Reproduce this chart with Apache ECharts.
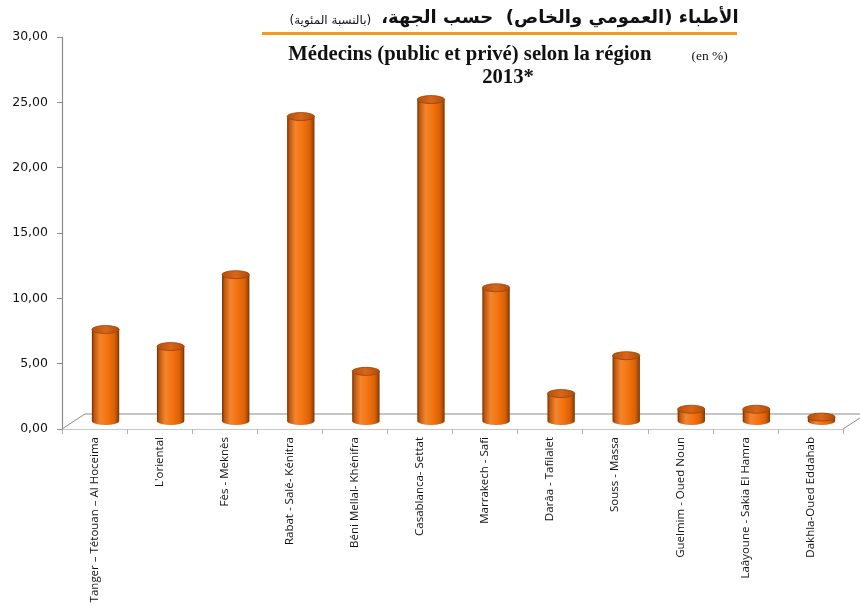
<!DOCTYPE html>
<html>
<head>
<meta charset="utf-8">
<script src="https://cdn.jsdelivr.net/npm/echarts@6/dist/echarts.min.js"></script>
<style>
html,body{margin:0;padding:0;background:#fff;}
#chart{width:860px;height:608px;}
</style>
</head>
<body>
<div id="chart"></div>
<script>
const categories = [
  'Tanger – Tétouan – Al Hoceima',
  "L'oriental",
  'Fès - Meknès',
  'Rabat - Salé- Kénitra',
  'Béni Mellal- Khénifra',
  'Casablanca- Settat',
  'Marrakech - Safi',
  'Darâa - Tafilalet',
  'Souss - Massa',
  'Guelmim - Oued Noun',
  'Laâyoune - Sakia El Hamra',
  'Dakhla-Oued Eddahab'
];
const values = [7.0, 5.7, 11.2, 23.3, 3.8, 24.6, 10.2, 2.1, 5.0, 0.9, 0.9, 0.3];
const yTicks = [0, 5, 10, 15, 20, 25, 30];

const chart = echarts.init(document.getElementById('chart'), null, {renderer: 'canvas'});

const DEPTH_X = 11, DEPTH_Y = 8, FLOOR_X = 23, FLOOR_Y = 15;
const RLM = '\u200F';

function ellipsePath(cx, cy, rx, ry) {
  return 'M' + (cx - rx) + ' ' + cy +
    ' A' + rx + ' ' + ry + ' 0 1 0 ' + (cx + rx) + ' ' + cy +
    ' A' + rx + ' ' + ry + ' 0 1 0 ' + (cx - rx) + ' ' + cy + ' Z';
}

function renderBar(params, api) {
  const idx = api.value(0);
  const val = api.value(1);
  const top = api.coord([idx, val]);
  const base = api.coord([idx, 0]);
  const band = api.size([1, 0])[0];
  const w = band * 0.42;
  const rx = w / 2, ry = 4;
  const cx = top[0] + DEPTH_X;
  const yTop = top[1] - DEPTH_Y;
  const yBase = base[1] - DEPTH_Y;
  const xl = cx - rx, xr = cx + rx;
  const bodyPath = 'M' + xl + ' ' + yTop + ' L' + xl + ' ' + yBase +
    ' A' + rx + ' ' + ry + ' 0 0 0 ' + xr + ' ' + yBase +
    ' L' + xr + ' ' + yTop + ' Z';
  return {
    type: 'group',
    children: [
      {
        type: 'path',
        shape: {pathData: bodyPath},
        style: {
          fill: new echarts.graphic.LinearGradient(0, 0, 1, 0, [
            {offset: 0, color: '#6e2e00'},
            {offset: 0.08, color: '#bd560c'},
            {offset: 0.3, color: '#f2852f'},
            {offset: 0.55, color: '#f47410'},
            {offset: 0.82, color: '#dc6207'},
            {offset: 0.94, color: '#a44a06'},
            {offset: 1, color: '#6e2e00'}
          ])
        }
      },
      {
        type: 'path',
        shape: {pathData: ellipsePath(cx, yTop, rx, ry)},
        style: {
          fill: new echarts.graphic.LinearGradient(0, 0, 1, 0, [
            {offset: 0, color: '#b4500c'},
            {offset: 0.5, color: '#d8661a'},
            {offset: 1, color: '#b04c08'}
          ]),
          stroke: '#9a4206',
          lineWidth: 0.8
        }
      }
    ]
  };
}

function renderFloor(params, api) {
  const cs = params.coordSys;
  const x0 = cs.x, x1 = cs.x + cs.width, yb = cs.y + cs.height;
  return {
    type: 'group',
    children: [
      {type: 'line', shape: {x1: x0, y1: yb, x2: x0 + FLOOR_X, y2: yb - FLOOR_Y}, style: {stroke: '#8c8c8c', lineWidth: 1}},
      {type: 'line', shape: {x1: x0 + FLOOR_X, y1: yb - FLOOR_Y, x2: x1 + FLOOR_X, y2: yb - FLOOR_Y}, style: {stroke: '#8c8c8c', lineWidth: 1.2}},
      {type: 'line', shape: {x1: x1, y1: yb, x2: x1 + FLOOR_X, y2: yb - FLOOR_Y}, style: {stroke: '#8c8c8c', lineWidth: 1}}
    ]
  };
}

const option = {
  backgroundColor: '#ffffff',
  animation: false,
  title: [
    {
      text: '{s|' + RLM + '(بالنسبة المئوية)' + RLM + '}  {b|' + RLM + 'الأطباء (العمومي والخاص)  حسب الجهة،' + RLM + '}',
      left: 509, top: 4, textAlign: 'center',
      textStyle: {
        rich: {
          s: {fontFamily: 'DejaVu Sans', fontSize: 12, color: '#111', fontWeight: 'normal', verticalAlign: 'bottom'},
          b: {fontFamily: 'DejaVu Sans', fontSize: 18, color: '#111', fontWeight: 'bold'}
        }
      }
    },
    {
      text: '{b|Médecins (public et privé) selon la région}{g|}{s|(en %)}\n{b|2013*}',
      left: 503, top: 38, textAlign: 'center',
      textStyle: {
        align: 'center',
        lineHeight: 23,
        rich: {
          b: {fontFamily: 'Liberation Serif', fontSize: 20.7, fontWeight: 'bold', color: '#111', lineHeight: 23},
          g: {width: 40, lineHeight: 23},
          s: {fontFamily: 'Liberation Serif', fontSize: 13.5, fontWeight: 'normal', color: '#111', lineHeight: 23, padding: [4, 0, 0, 0]}
        }
      }
    }
  ],
  graphic: [
    {type: 'rect', shape: {x: 262, y: 32, width: 475, height: 3}, style: {fill: '#f39a1e'}, silent: true}
  ],
  grid: {left: 62, right: 17, top: 37, bottom: 179, containLabel: false},
  xAxis: {
    type: 'category',
    data: categories,
    boundaryGap: true,
    axisLine: {show: true, lineStyle: {color: '#c8c8c8', width: 1.2}},
    axisTick: {show: true, alignWithLabel: false, length: 5, lineStyle: {color: '#b0b0b0'}},
    axisLabel: {
      interval: 0, rotate: 90, margin: 8,
      fontFamily: 'Open Sans', fontSize: 11.5, color: '#111'
    }
  },
  yAxis: {
    type: 'value',
    min: 0, max: 30, interval: 5,
    splitLine: {show: false},
    axisLine: {show: true, lineStyle: {color: '#8c8c8c', width: 1.2}},
    axisTick: {show: true, length: 5, lineStyle: {color: '#8c8c8c'}},
    axisLabel: {
      margin: 14,
      fontFamily: 'DejaVu Sans', fontSize: 12.5, color: '#111',
      formatter: function (v) { return yTicks.indexOf(v) >= 0 ? v.toFixed(2).replace('.', ',') : ''; }
    }
  },
  series: [
    {
      type: 'custom',
      name: 'floor',
      renderItem: renderFloor,
      data: [[0, 0]],
      clip: false,
      silent: true,
      z: 1
    },
    {
      type: 'custom',
      name: 'Médecins',
      renderItem: renderBar,
      data: values.map(function (v, i) { return [i, v]; }),
      encode: {x: 0, y: 1},
      clip: false,
      z: 2
    }
  ]
};
chart.setOption(option);
</script>
</body>
</html>
